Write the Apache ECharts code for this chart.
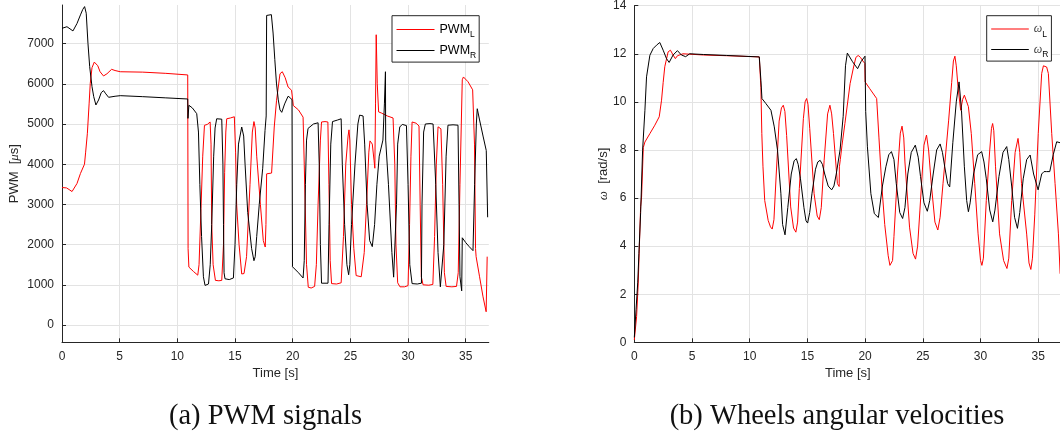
<!DOCTYPE html>
<html><head><meta charset="utf-8">
<script src="https://cdn.jsdelivr.net/npm/echarts@6/dist/echarts.min.js"></script>
<style>html,body{margin:0;padding:0;background:#fff}#c{width:1060px;height:439px}</style>
</head><body><div id="c"></div>
<script>
// ---- Data ----
const xTicks = [0, 5, 10, 15, 20, 25, 30, 35];
const pwmTicks = [0, 1000, 2000, 3000, 4000, 5000, 6000, 7000];
const omegaTicks = [0, 2, 4, 6, 8, 10, 12, 14];

const tPwmL = [0,0.4,0.87,1.3,1.6,1.95,2.05,2.2,2.35,2.45,2.6,2.8,2.95,3.1,3.3,3.6,3.9,4.3,4.6,5.05,7,9,10.9,10.93,11.0,11.4,11.77,11.88,12.05,12.2,12.35,12.6,12.84,12.92,12.98,13.1,13.3,13.6,13.85,14.0,14.1,14.2,14.28,14.6,14.94,15.05,15.14,15.35,15.58,15.78,16.0,16.3,16.5,16.64,16.75,16.88,17.2,17.45,17.62,17.68,17.74,18.17,18.4,18.6,18.9,19.1,19.35,19.6,19.9,20.0,20.05,20.5,20.9,21.0,21.2,21.35,21.6,21.9,22.05,22.2,22.4,22.5,22.8,23.05,23.14,23.25,23.37,23.8,24.2,24.4,24.6,24.8,24.88,24.95,25.1,25.3,25.5,25.94,26.2,26.4,26.6,26.7,26.9,27.05,27.12,27.18,27.24,27.33,27.45,27.68,28.2,28.7,28.85,28.95,29.1,29.3,29.7,30.0,30.13,30.25,30.35,30.7,30.95,31.05,31.15,31.3,31.8,32.15,32.3,32.45,32.6,32.85,33.0,33.15,33.3,33.8,34.2,34.35,34.5,34.7,34.8,35.2,35.6,35.76,35.85,35.9,36.2,36.5,36.77,36.86];
const pwmL = [3420,3410,3320,3520,3770,4000,4300,4770,5500,6010,6400,6540,6550,6450,6300,6195,6250,6360,6330,6300,6290,6260,6220,1900,1440,1330,1240,1500,2900,4200,4967,4990,5050,4500,2500,1500,1110,1100,1110,2000,3800,4800,5130,5150,5180,4300,3000,2000,1270,1280,1700,3500,4800,5060,4900,4200,3000,2100,1940,2500,3760,3780,4925,5590,6250,6300,6150,5920,5840,5600,5460,5350,5170,4000,1500,940,920,960,1500,3000,4600,5050,5060,5050,3500,1600,1030,1020,1050,2200,4000,4700,4855,4600,3000,1900,1230,1200,1800,3000,4300,4580,4500,4100,3900,5500,7220,6000,5300,5275,5200,5150,4000,2000,1050,950,950,980,2500,4200,5050,5020,4950,3000,1200,1000,990,1010,2200,4000,4930,4880,3500,1300,960,950,960,1300,3500,6100,6170,6050,5850,4500,1900,1700,1200,700,330,1700];

const tPwmR = [0,0.43,0.95,1.3,1.6,1.8,1.96,2.1,2.25,2.4,2.6,2.75,2.94,3.17,3.4,3.6,3.8,4.04,4.6,5.05,7,9,10.9,10.92,10.96,11.0,11.3,11.68,11.83,11.95,12.1,12.26,12.4,12.55,12.7,12.85,12.98,13.15,13.27,13.41,13.85,13.95,14.0,14.05,14.13,14.5,14.86,15.0,15.15,15.3,15.58,15.75,15.87,16.1,16.44,16.64,16.75,16.88,17.1,17.4,17.6,17.7,17.74,17.9,18.15,18.3,18.45,18.59,18.75,18.9,19.05,19.3,19.6,19.8,19.94,19.98,20.5,20.9,21.0,21.1,21.2,21.33,21.8,22.2,22.3,22.4,22.5,23.06,23.15,23.3,23.45,23.9,24.2,24.3,24.5,24.7,24.85,24.95,25.1,25.4,25.65,25.8,26.1,26.24,26.45,26.67,26.9,27.1,27.3,27.5,27.82,27.95,28.04,28.06,28.3,28.6,28.75,28.85,29.0,29.1,29.28,29.5,29.86,30.0,30.15,30.35,30.8,31.16,31.21,31.35,31.5,31.9,32.17,32.4,32.6,32.8,32.9,33.1,33.3,33.46,33.9,34.33,34.42,34.5,34.65,34.68,34.7,35.0,35.3,35.63,35.77,35.92,36.0,36.2,36.5,36.78,36.85,36.9];
const pwmR = [7380,7420,7315,7500,7714,7850,7920,7755,7008,6427,5930,5680,5473,5597,5780,5830,5750,5664,5690,5705,5680,5650,5622,5140,5140,5465,5400,5257,4800,3500,2200,1200,985,970,1020,1500,2500,4200,4900,5130,5120,4000,2500,1300,1150,1130,1170,2000,3500,4500,4925,4700,4000,2800,1900,1600,1700,2200,3000,3900,4840,5200,7700,7740,7720,7263,6600,6018,5600,5350,5290,5500,5690,5650,5600,1450,1300,1170,1600,3500,4600,4890,5000,5030,4000,2000,1040,1040,2500,4500,5060,5100,5130,4000,2500,1500,1250,1500,2500,4000,5000,5220,5200,4500,3000,2100,1950,2500,3500,4200,4600,5500,6300,4600,3500,1800,1190,1180,3000,4500,4925,4990,4960,3500,1500,1030,1020,1040,3000,4800,5000,5010,5000,3500,1800,950,940,2000,4200,4970,4980,4970,3000,1200,850,830,2170,2050,1950,1850,3500,5000,5380,5100,4700,4340,4300,2680];

const tOmL = [0,0.2,0.34,0.43,0.55,0.63,0.78,0.92,1.35,1.78,2.16,2.36,2.5,2.64,2.93,3.13,3.36,3.56,3.74,4.22,6,8,10.83,10.9,10.97,11.05,11.15,11.3,11.6,11.8,11.95,12.1,12.3,12.55,12.75,12.91,13.05,13.2,13.55,13.8,14.0,14.15,14.3,14.65,14.8,14.93,15.05,15.2,15.58,15.85,16.03,16.2,16.45,16.75,16.95,17.1,17.26,17.6,17.75,17.77,17.85,18.0,18.25,18.7,19.0,19.2,19.4,19.6,19.8,19.98,20.0,20.4,21.0,21.2,21.45,21.7,22.0,22.15,22.25,22.38,22.5,22.8,23.05,23.2,23.35,23.45,23.85,24.15,24.37,24.55,24.75,25.1,25.32,25.5,25.75,26.05,26.3,26.5,26.75,27.24,27.5,27.65,27.78,27.9,28.05,28.28,28.45,28.6,28.75,28.95,29.2,29.5,29.79,30.0,30.12,30.25,30.5,30.8,30.95,31.05,31.15,31.3,31.65,32.0,32.29,32.45,32.7,33.0,33.25,33.4,33.55,34.0,34.2,34.36,34.5,34.7,35.0,35.3,35.45,35.59,35.73,35.88,36.17,36.46,36.75,36.9];
const omL = [0.1,1.07,2.46,3.85,5.65,6.04,8.1,8.33,8.68,9.03,9.38,10.07,10.8,11.46,12.08,12.15,11.95,11.8,11.92,12.0,11.95,11.92,11.87,11.92,10.6,8.68,7.3,5.9,5.07,4.8,4.71,5.1,7.0,9.2,9.75,9.86,9.6,8.6,5.63,4.75,4.58,5.0,6.4,9.3,10.0,10.14,9.9,8.9,6.18,5.25,5.1,5.6,7.57,9.5,9.86,9.5,8.68,6.6,6.48,7.3,7.6,8.2,9.1,10.76,11.45,11.85,11.93,11.85,11.7,11.6,10.83,10.55,10.14,8.5,6.5,4.9,3.6,3.2,3.12,3.4,4.4,7.0,8.7,8.99,8.5,7.5,4.79,3.7,3.46,4.0,5.5,8.2,8.62,8.0,6.5,5.0,4.67,5.2,6.6,9.24,10.8,11.7,11.9,11.5,10.63,9.65,10.1,10.28,10.2,9.8,8.68,6.6,4.51,3.4,3.2,3.5,5.9,8.0,8.9,9.1,8.8,7.3,4.51,3.4,3.07,3.5,5.9,7.9,8.48,7.9,6.6,4.5,3.3,3.03,3.5,5.3,8.68,11.18,11.5,11.56,11.45,11.18,8.68,6.6,4.51,2.85];

const tOmR = [0,0.15,0.3,0.4,0.55,0.72,0.92,1.06,1.35,1.64,1.93,2.21,2.5,2.79,3.02,3.36,3.74,4.08,4.45,4.8,6,8,10.83,10.92,10.97,11.06,11.4,11.84,12.13,12.41,12.7,12.85,13.06,13.3,13.6,13.85,14.04,14.2,14.4,14.7,14.88,15.02,15.2,15.4,15.7,15.9,16.1,16.3,16.5,16.8,17.1,17.3,17.5,17.83,18.1,18.3,18.46,18.91,19.35,19.64,19.99,20.05,20.2,20.5,20.8,21.15,21.5,21.8,22.05,22.28,22.5,22.7,23.0,23.25,23.45,23.7,24.0,24.35,24.6,24.8,25.1,25.39,25.6,25.9,26.2,26.5,26.7,26.9,27.15,27.33,27.6,27.9,28.14,28.35,28.6,28.8,28.95,29.1,29.4,29.75,30.1,30.3,30.5,30.8,31.06,31.25,31.6,31.95,32.27,32.45,32.7,32.95,33.2,33.4,33.7,34.0,34.3,34.6,34.99,35.3,35.5,35.73,36.0,36.3,36.6,36.9];
const omR = [0.2,1.35,2.5,3.7,5.4,7.99,9.65,11.04,11.94,12.22,12.36,12.47,12.15,11.8,11.64,11.95,12.13,11.95,11.88,12.0,11.97,11.93,11.87,11.87,10.9,10.14,9.93,9.65,8.96,7.99,6.2,4.9,4.47,5.6,7.0,7.55,7.64,7.4,6.8,5.6,5.05,4.96,5.4,6.2,7.2,7.5,7.57,7.4,7.0,6.5,6.34,6.5,7.0,8.0,9.4,11.5,12.03,11.67,11.38,11.67,11.9,9.6,8.13,6.18,5.35,5.19,6.5,7.3,7.8,7.93,7.6,6.6,5.4,5.15,5.6,7.0,7.9,8.2,7.7,6.9,5.8,5.45,5.9,7.0,8.0,8.25,7.9,7.3,6.6,6.46,8.3,10.0,10.83,9.65,7.3,5.9,5.43,5.8,7.0,7.8,7.93,7.5,6.8,5.5,5.01,5.5,6.9,7.9,8.14,7.6,6.5,5.2,4.74,5.4,6.8,7.6,7.79,7.0,6.34,7.0,7.1,7.1,7.1,7.8,8.34,8.3];

// ---- Chart ----
const zip = (t, v) => t.map((x, i) => [x, v[i]]);
const AX = '#262626', GRID = '#e3e3e3';
const SANS = '"Liberation Sans", Arial, Helvetica, sans-serif';
const SERIF = '"Liberation Serif", "Times New Roman", serif';

function xAxis(gi) {
  return {
    type: 'value', gridIndex: gi, min: 0, max: 37, interval: 5,
    name: 'Time [s]', nameLocation: 'middle', nameGap: 25, nameMoveOverlap: false,
    nameTextStyle: { color: AX, fontSize: 13, fontFamily: SANS },
    axisLine: { show: true, onZero: false, lineStyle: { color: AX, width: 1 } },
    axisTick: { show: true, inside: true, length: 4, lineStyle: { color: AX } },
    axisLabel: { color: AX, fontSize: 12, fontFamily: SANS, margin: 8, showMaxLabel: false,
      formatter: v => xTicks.includes(v) ? String(v) : '' },
    splitLine: { show: true, showMaxLine: false, lineStyle: { color: GRID, width: 1 } }
  };
}

function legend(names, left, width, padR, textKey, textRich) {
  return {
    data: names, orient: 'vertical', left: left, top: 15.7,
    icon: 'rect', itemWidth: width, itemHeight: 1, itemGap: 4.4, itemTextGap: 5,
    padding: [7.3, padR, 1.7, 4.5],
    borderColor: AX, borderWidth: 1, backgroundColor: '#fff', borderRadius: 0,
    formatter: n => { const p = n.split('_'); return '{' + textKey + '|' + p[0] + '}{s|' + p[1] + '}'; },
    textStyle: { rich: textRich }
  };
}

const chart = echarts.init(document.getElementById('c'), null, { renderer: 'canvas' });
chart.setOption({
  animation: false,
  backgroundColor: '#fff',
  grid: [
    { left: 62, top: 5, width: 426.8, height: 337.3, outerBoundsMode: 'none', containLabel: false },
    { left: 634.3, top: 5.7, width: 427, height: 336.6, outerBoundsMode: 'none', containLabel: false }
  ],
  xAxis: [xAxis(0), xAxis(1)],
  yAxis: [
    {
      type: 'value', gridIndex: 0, min: -430, max: 7960, splitNumber: 8, minInterval: 1000, maxInterval: 1000,
      name: '{a|PWM  [}{i|μ}{a|s]}', nameLocation: 'middle', nameGap: 41, nameMoveOverlap: false,
      nameTextStyle: { rich: {
        a: { fontSize: 13, fontFamily: SANS, color: AX },
        i: { fontSize: 13, fontFamily: SERIF, fontStyle: 'italic', color: AX } } },
      axisLine: { show: true, lineStyle: { color: AX, width: 1 } },
      axisTick: { show: true, inside: true, length: 4, lineStyle: { color: AX } },
      axisLabel: { color: AX, fontSize: 12, fontFamily: SANS, margin: 8, showMinLabel: false, showMaxLabel: false,
        formatter: v => pwmTicks.includes(v) ? String(v) : '' },
      splitLine: { show: true, showMinLine: false, showMaxLine: false, lineStyle: { color: GRID, width: 1 } }
    },
    {
      type: 'value', gridIndex: 1, min: 0, max: 14, interval: 2,
      name: '{i|ω}{a|  [rad/s]}', nameLocation: 'middle', nameGap: 24, nameMoveOverlap: false,
      nameTextStyle: { rich: {
        a: { fontSize: 13, fontFamily: SANS, color: AX },
        i: { fontSize: 13, fontFamily: SERIF, fontStyle: 'italic', color: AX } } },
      axisLine: { show: true, lineStyle: { color: AX, width: 1 } },
      axisTick: { show: true, inside: true, length: 4, lineStyle: { color: AX } },
      axisLabel: { color: AX, fontSize: 12, fontFamily: SANS, margin: 8,
        formatter: v => omegaTicks.includes(v) ? String(v) : '' },
      splitLine: { show: true, showMinLine: false, lineStyle: { color: GRID, width: 1 } }
    }
  ],
  legend: [
    legend(['PWM_L', 'PWM_R'], 392, 38, 3, 'a', {
      a: { fontSize: 12.5, fontFamily: SANS, color: '#000', lineHeight: 20, verticalAlign: 'middle' },
      s: { fontSize: 8.5, fontFamily: SANS, color: '#000', lineHeight: 20, verticalAlign: 'bottom' } }),
    legend(['ω_L', 'ω_R'], 986.7, 37.6, 3, 'w', {
      w: { fontSize: 12, fontFamily: SERIF, fontStyle: 'italic', color: '#444', lineHeight: 20, verticalAlign: 'middle' },
      s: { fontSize: 8.5, fontFamily: SANS, color: '#000', lineHeight: 20, verticalAlign: 'bottom' } })
  ],
  graphic: [
    { type: 'text', x: 265.5, y: 417, style: { text: '(a) PWM signals', font: '28.5px ' + SERIF, fill: '#111', textAlign: 'center', textVerticalAlign: 'middle' } },
    { type: 'text', x: 837, y: 417, style: { text: '(b) Wheels angular velocities', font: '28.5px ' + SERIF, fill: '#111', textAlign: 'center', textVerticalAlign: 'middle' } }
  ],
  series: [
    { name: 'PWM_L', type: 'line', xAxisIndex: 0, yAxisIndex: 0, data: zip(tPwmL, pwmL), symbol: 'none', showSymbol: false, lineStyle: { color: '#ff0000', width: 1 }, itemStyle: { color: '#ff0000' } },
    { name: 'PWM_R', type: 'line', xAxisIndex: 0, yAxisIndex: 0, data: zip(tPwmR, pwmR), symbol: 'none', showSymbol: false, lineStyle: { color: '#000000', width: 1 }, itemStyle: { color: '#000000' } },
    { name: 'ω_L', type: 'line', xAxisIndex: 1, yAxisIndex: 1, data: zip(tOmL, omL), symbol: 'none', showSymbol: false, lineStyle: { color: '#ff0000', width: 1 }, itemStyle: { color: '#ff0000' } },
    { name: 'ω_R', type: 'line', xAxisIndex: 1, yAxisIndex: 1, data: zip(tOmR, omR), symbol: 'none', showSymbol: false, lineStyle: { color: '#000000', width: 1 }, itemStyle: { color: '#000000' } }
  ]
});
</script>
</body></html>
